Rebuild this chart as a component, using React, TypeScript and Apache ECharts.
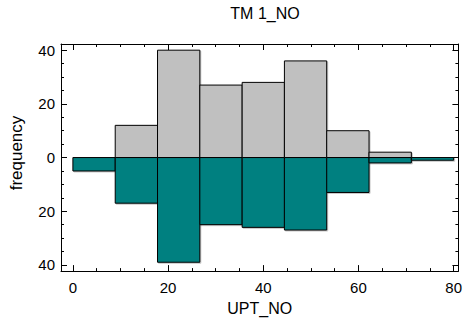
import React, { useEffect, useRef } from "react";
import * as echarts from "echarts";

const binStarts = [0, 8.89, 17.78, 26.67, 35.56, 44.44, 53.33, 62.22, 71.11];
const binEnds = [8.89, 17.78, 26.67, 35.56, 44.44, 53.33, 62.22, 71.11, 80];
const upperCounts = [0, 12, 40, 27, 28, 36, 10, 2, 0];
const lowerCounts = [5, 17, 39, 25, 26, 27, 13, 2, 1];
const xMajorTicks = [0, 20, 40, 60, 80];
const xMinorTicks = [0, 5, 10, 15, 20, 25, 30, 35, 40, 45, 50, 55, 60, 65, 70, 75, 80];
const yMajorTicks = [-40, -20, 0, 20, 40];
const yMinorTicks = [-40, -35, -30, -25, -20, -15, -10, -5, 0, 5, 10, 15, 20, 25, 30, 35, 40];

const FONT = "'Liberation Sans', Arial, sans-serif";

export default function App() {
  const ref = useRef<HTMLDivElement>(null);
  useEffect(() => {
    if (!ref.current) return;
    const chart = echarts.init(ref.current, undefined, { renderer: "svg" });

    const upperData = binStarts.map((s, i) => [s, binEnds[i], upperCounts[i]]);
    const lowerData = binStarts.map((s, i) => [s, binEnds[i], -lowerCounts[i]]);

    const makeRender = (fill: string) => (params: any, api: any) => {
      const x0 = api.value(0);
      const x1 = api.value(1);
      const v = api.value(2);
      if (!v) return null;
      const p0 = api.coord([x0, 0]);
      const p1 = api.coord([x1, v]);
      return {
        type: "rect",
        shape: {
          x: p0[0],
          y: Math.min(p0[1], p1[1]),
          width: p1[0] - p0[0],
          height: Math.abs(p1[1] - p0[1]),
        },
        style: {
          fill,
          stroke: "#000",
          lineWidth: 1,
          shadowColor: "rgba(0,0,0,0.22)",
          shadowOffsetX: 1,
          shadowOffsetY: 1,
          shadowBlur: 1,
        },
      };
    };

    const xMin = -2.5;
    const xMax = 81;
    const yMin = -42.3;
    const yMax = 42.3;

    const baseX = (position: string, ticks: number[], len: number, labels: boolean, line: boolean, name?: string) => ({
      type: "value",
      position,
      min: xMin,
      max: xMax,
      name: name || "",
      nameLocation: "middle",
      nameGap: 28,
      nameTextStyle: { fontFamily: FONT, fontSize: 16, color: "#000" },
      axisLine: { show: line, onZero: false, lineStyle: { color: "#000", width: 1 } },
      axisTick: { show: true, inside: true, length: len, customValues: ticks, lineStyle: { color: "#000", width: 1 } },
      axisLabel: labels
        ? { show: true, customValues: ticks, fontFamily: FONT, fontSize: 15, color: "#000", margin: 9 }
        : { show: false },
      splitLine: { show: false },
    });

    const baseY = (position: string, ticks: number[], len: number, labels: boolean, line: boolean) => ({
      type: "value",
      position,
      min: yMin,
      max: yMax,
      axisLine: { show: line, onZero: false, lineStyle: { color: "#000", width: 1 } },
      axisTick: { show: true, inside: true, length: len, customValues: ticks, lineStyle: { color: "#000", width: 1 } },
      axisLabel: labels
        ? {
            show: true,
            customValues: ticks,
            fontFamily: FONT,
            fontSize: 15,
            color: "#000",
            margin: 6,
            formatter: (v: number) => String(Math.abs(v)),
          }
        : { show: false },
      splitLine: { show: false },
    });

    chart.setOption({
      animation: false,
      backgroundColor: "#fff",
      grid: { left: 61, right: 4, top: 44, bottom: 49 },
      graphic: [
        {
          type: "text",
          x: 265,
          y: 13,
          style: {
            text: "TM 1_NO",
            fontFamily: FONT,
            fontSize: 16,
            fill: "#000",
            textAlign: "center",
            textVerticalAlign: "middle",
          },
        },
        {
          type: "text",
          x: 16,
          y: 153,
          rotation: Math.PI / 2,
          style: {
            text: "frequency",
            fontFamily: FONT,
            fontSize: 17,
            fill: "#000",
            textAlign: "center",
            textVerticalAlign: "middle",
          },
        },
      ],
      xAxis: [
        baseX("bottom", xMajorTicks, 6, true, true, "UPT_NO"),
        baseX("bottom", xMinorTicks, 3, false, false),
        baseX("top", xMajorTicks, 6, false, true),
        baseX("top", xMinorTicks, 3, false, false),
      ],
      yAxis: [
        baseY("left", yMajorTicks, 6, true, true),
        baseY("left", yMinorTicks, 3, false, false),
        baseY("right", yMajorTicks, 6, false, true),
        baseY("right", yMinorTicks, 3, false, false),
      ],
      series: [
        {
          type: "custom",
          xAxisIndex: 0,
          yAxisIndex: 0,
          renderItem: makeRender("#c0c0c0"),
          encode: { x: [0, 1], y: 2 },
          data: upperData,
          z: 2,
        },
        {
          type: "custom",
          xAxisIndex: 0,
          yAxisIndex: 0,
          renderItem: makeRender("#008080"),
          encode: { x: [0, 1], y: 2 },
          data: lowerData,
          z: 3,
        },
      ],
    });
    return () => chart.dispose();
  }, []);
  return <div ref={ref} style={{ width: 465, height: 321, position: "absolute", left: 0, top: 0 }} />;
}
